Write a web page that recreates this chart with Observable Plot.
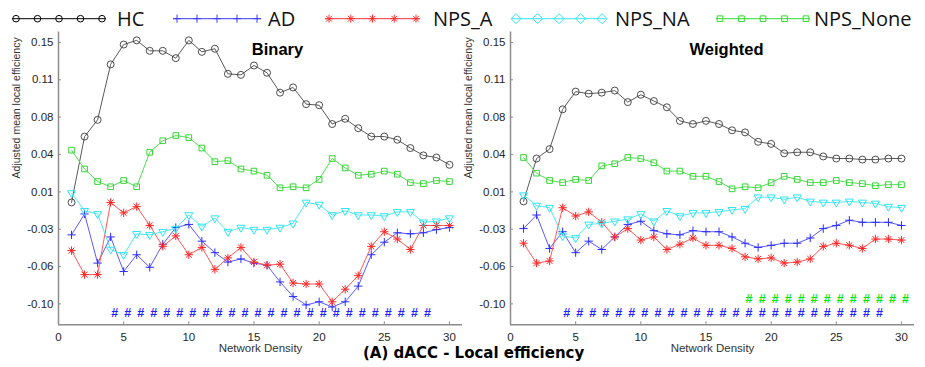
<!DOCTYPE html>
<html>
<head>
<meta charset="utf-8">
<script src="https://cdn.jsdelivr.net/npm/d3@7"></script>
<script src="https://cdn.jsdelivr.net/npm/@observablehq/plot@0.6"></script>
<style>
  html, body { margin: 0; padding: 0; background: #fff; }
  #wrap { position: relative; width: 925px; height: 367px; overflow: hidden; background: #fff; }
  #wrap > * { position: absolute; }
  #maintitle { left: 363px; top: 344px; font: bold 15px "DejaVu Sans", sans-serif; line-height: 18px; color: #000; white-space: nowrap; }
</style>
</head>
<body>
<div id="wrap"></div>
<script>
// ---------------- data ----------------
const density = [1,2,3,4,5,6,7,8,9,10,11,12,13,14,15,16,17,18,19,20,21,22,23,24,25,26,27,28,29,30];
const seriesNames = ["HC", "AD", "NPS_A", "NPS_NA", "NPS_None"];

// Binary panel
const binaryHC      = [-0.003, 0.060, 0.076, 0.129, 0.148, 0.152, 0.142, 0.142, 0.135, 0.152, 0.141, 0.144, 0.120, 0.119, 0.128, 0.121, 0.102, 0.107, 0.091, 0.090, 0.072, 0.077, 0.068, 0.060, 0.060, 0.057, 0.049, 0.042, 0.040, 0.033];
const binaryAD      = [-0.034, -0.014, -0.061, -0.036, -0.069, -0.053, -0.065, -0.043, -0.027, -0.024, -0.040, -0.051, -0.060, -0.057, -0.061, -0.063, -0.079, -0.093, -0.101, -0.098, -0.103, -0.098, -0.083, -0.053, -0.041, -0.032, -0.033, -0.032, -0.029, -0.027];
const binaryNPSA    = [-0.049, -0.072, -0.072, -0.003, -0.013, -0.007, -0.025, -0.045, -0.035, -0.053, -0.046, -0.067, -0.056, -0.046, -0.060, -0.063, -0.062, -0.080, -0.081, -0.081, -0.098, -0.086, -0.073, -0.045, -0.031, -0.038, -0.048, -0.025, -0.025, -0.025];
const binaryNPSNA   = [0.006, -0.011, -0.014, -0.048, -0.053, -0.033, -0.034, -0.031, -0.028, -0.015, -0.026, -0.018, -0.031, -0.027, -0.029, -0.029, -0.027, -0.023, -0.003, -0.005, -0.015, -0.011, -0.015, -0.015, -0.016, -0.012, -0.012, -0.022, -0.021, -0.018];
const binaryNPSNone = [0.047, 0.029, 0.017, 0.012, 0.018, 0.012, 0.045, 0.056, 0.061, 0.059, 0.049, 0.036, 0.037, 0.029, 0.027, 0.023, 0.011, 0.012, 0.011, 0.019, 0.039, 0.030, 0.023, 0.024, 0.027, 0.024, 0.016, 0.015, 0.018, 0.017];

// Weighted panel
const weightedHC      = [-0.002, 0.039, 0.048, 0.086, 0.103, 0.101, 0.102, 0.104, 0.093, 0.100, 0.094, 0.088, 0.075, 0.072, 0.075, 0.072, 0.066, 0.064, 0.055, 0.053, 0.044, 0.045, 0.045, 0.041, 0.039, 0.039, 0.038, 0.038, 0.039, 0.039];
const weightedAD      = [-0.028, -0.015, -0.047, -0.031, -0.051, -0.040, -0.048, -0.036, -0.024, -0.021, -0.030, -0.033, -0.034, -0.030, -0.031, -0.031, -0.036, -0.042, -0.046, -0.044, -0.042, -0.042, -0.037, -0.028, -0.025, -0.020, -0.022, -0.022, -0.022, -0.025];
const weightedNPSA    = [-0.042, -0.061, -0.059, -0.008, -0.016, -0.012, -0.022, -0.036, -0.028, -0.039, -0.036, -0.048, -0.043, -0.037, -0.044, -0.044, -0.047, -0.055, -0.057, -0.056, -0.061, -0.060, -0.057, -0.045, -0.042, -0.044, -0.047, -0.038, -0.038, -0.039];
const weightedNPSNA   = [0.004, -0.006, -0.008, -0.035, -0.037, -0.024, -0.023, -0.021, -0.019, -0.014, -0.021, -0.011, -0.016, -0.013, -0.013, -0.012, -0.010, -0.009, 0.002, 0.002, 0.000, 0.002, -0.002, -0.003, -0.003, -0.002, -0.003, -0.004, -0.007, -0.008];
const weightedNPSNone = [0.040, 0.025, 0.018, 0.016, 0.019, 0.018, 0.032, 0.034, 0.040, 0.039, 0.035, 0.027, 0.027, 0.022, 0.022, 0.017, 0.010, 0.012, 0.011, 0.016, 0.022, 0.019, 0.016, 0.016, 0.018, 0.016, 0.015, 0.013, 0.014, 0.014];

// significance markers (#)
const sigBinaryAD     = [4,5,6,7,8,9,10,11,12,13,14,15,16,17,18,19,20,21,22,23,24,25,26,27,28];
const sigWeightedAD   = [4,5,6,7,8,9,10,11,12,13,14,15,16,17,18,19,20,21,22,23,24,25,26,27,28];
const sigWeightedNone = [18,19,20,21,22,23,24,25,26,27,28,29,30];

// axes
const xDomain = [0, 31];
const yDomain = [-0.12, 0.16];
const xTicks = [0, 5, 10, 15, 20, 25, 30];
const yTicks = [-0.1, -0.0643, -0.0286, 0.0071, 0.0429, 0.0786, 0.1143, 0.15];
const yTickLabels = ["-0.10", "-0.06", "-0.03", "0.01", "0.04", "0.08", "0.11", "0.15"];

// ---------------- styles ----------------
const axisColor = "#8c8c8c";
const C = {
  HC:      {line: "#5a5a5a", mark: "#3a3a3a", legend: "#000000"},
  AD:      {line: "#5a5aff", mark: "#2b2bff", legend: "#3a3aff"},
  NPS_A:   {line: "#ff5757", mark: "#ff2626", legend: "#ff3030"},
  NPS_NA:  {line: "#4fe9f2", mark: "#30e4f0", legend: "#30e8f4"},
  NPS_None:{line: "#4ede4e", mark: "#35d635", legend: "#30dd30"}
};
const tickFont = "Liberation Sans, Arial, sans-serif";

function panel(o) {
  const X = (d, i) => density[i];
  const Y = d => d;
  const marks = [
    // axis lines
    Plot.ruleX([xDomain[0]], {stroke: axisColor, strokeWidth: 1.5}),
    Plot.ruleY([yDomain[0]], {stroke: axisColor, strokeWidth: 1.5}),
    // inward ticks
    Plot.axisX({ticks: xTicks, tickSize: -3, fill: "none", stroke: axisColor, label: null}),
    Plot.axisY({ticks: yTicks, tickSize: -3, fill: "none", stroke: axisColor, label: null}),
    // tick labels
    Plot.axisX({ticks: xTicks, tickSize: 0, tickPadding: 8, stroke: "none", fill: "#262626", label: null, tickFormat: d => String(d)}),
    Plot.axisY({ticks: yTicks, tickSize: 0, tickPadding: 5, stroke: "none", fill: "#262626", label: null,
                tickFormat: d => yTickLabels[yTicks.indexOf(d)]}),
    // axis titles
    Plot.text(["Network Density"], {frameAnchor: "bottom", dy: 27, text: d => d, fill: "#333", fontSize: 11.5}),
    Plot.text(["Adjusted mean local efficiency"], {frameAnchor: "left", dx: o.ylabDx, rotate: -90, text: d => d, fill: "#333", fontSize: 10.5}),
    Plot.text([o.title], {frameAnchor: "top", dy: 11, dx: o.titleDx, text: d => d, fill: "#000", fontWeight: "bold", fontSize: 16.5}),

    // HC
    Plot.line(o.hc, {x: X, y: Y, stroke: C.HC.line, strokeWidth: 1}),
    Plot.dot(o.hc, {x: X, y: Y, symbol: "circle", r: 3.5, stroke: C.HC.mark, fill: "none", strokeWidth: 0.9}),
    // AD
    Plot.line(o.ad, {x: X, y: Y, stroke: C.AD.line, strokeWidth: 1}),
    Plot.dot(o.ad, {x: X, y: Y, symbol: "plus", r: 2.8, stroke: C.AD.mark, fill: "none", strokeWidth: 1}),
    // NPS_A
    Plot.line(o.npsA, {x: X, y: Y, stroke: C.NPS_A.line, strokeWidth: 1}),
    Plot.dot(o.npsA, {x: X, y: Y, symbol: "plus", r: 2.8, stroke: C.NPS_A.mark, fill: "none", strokeWidth: 1}),
    Plot.dot(o.npsA, {x: X, y: Y, symbol: "times", r: 2.8, stroke: C.NPS_A.mark, fill: "none", strokeWidth: 1}),
    // NPS_NA
    Plot.line(o.npsNA, {x: X, y: Y, stroke: C.NPS_NA.line, strokeWidth: 1}),
    Plot.dot(o.npsNA, {x: X, y: Y, symbol: "triangle2", r: 3.8, rotate: 180, stroke: C.NPS_NA.mark, fill: "none", strokeWidth: 1}),
    // NPS_None
    Plot.line(o.npsNone, {x: X, y: Y, stroke: C.NPS_None.line, strokeWidth: 1}),
    Plot.dot(o.npsNone, {x: X, y: Y, symbol: "square2", r: 3.6, stroke: C.NPS_None.mark, fill: "none", strokeWidth: 1}),

    // significance markers
    Plot.text(o.sigAD, {x: d => d, frameAnchor: "bottom", dy: -7.5, dx: 4, text: () => "#", fill: "#1f1fff", fontWeight: "bold", fontSize: 12.5, lineHeight: 1}),
  ];
  if (o.sigNone) {
    marks.push(Plot.text(o.sigNone, {x: d => d, frameAnchor: "bottom", dy: -21.5, dx: 4, text: () => "#", fill: "#00e600", fontWeight: "bold", fontSize: 12.5, lineHeight: 1}));
  }
  return Plot.plot({
    width: o.width,
    height: 367,
    marginLeft: o.marginLeft,
    marginRight: 0,
    marginTop: 31.5,
    marginBottom: 42.7,
    x: {domain: xDomain},
    y: {domain: yDomain},
    style: {fontFamily: tickFont, fontSize: "11.5px", background: "transparent", overflow: "visible"},
    marks
  });
}

const wrap = document.getElementById("wrap");

const left = panel({title: "Binary", titleDx: 17, ylabDx: -42, width: 462, marginLeft: 58,
  hc: binaryHC, ad: binaryAD, npsA: binaryNPSA, npsNA: binaryNPSNA, npsNone: binaryNPSNone,
  sigAD: sigBinaryAD, sigNone: null});
left.style.left = "0px"; left.style.top = "0px";
wrap.appendChild(left);

const right = panel({title: "Weighted", titleDx: 14, ylabDx: -42, width: 452, marginLeft: 48,
  hc: weightedHC, ad: weightedAD, npsA: weightedNPSA, npsNA: weightedNPSNA, npsNone: weightedNPSNone,
  sigAD: sigWeightedAD, sigNone: sigWeightedNone});
right.style.left = "462px"; right.style.top = "0px";
wrap.appendChild(right);

// ---------------- legend ----------------
const legendLayout = [
  {name: "HC",       x0: 12,  x1: 106, tx: 117, sym: d3.symbolCircle,   size: Math.PI * 3.3 * 3.3},
  {name: "AD",       x0: 173, x1: 261, tx: 268, sym: d3.symbolPlus,     size: 23},
  {name: "NPS_A",    x0: 325, x1: 420, tx: 433, sym: "asterisk",       size: 23},
  {name: "NPS_NA",   x0: 512, x1: 606, tx: 615, sym: d3.symbolDiamond2, size: 64},
  {name: "NPS_None", x0: 716, x1: 810, tx: 814, sym: d3.symbolSquare2,  size: 41}
];
const lsvg = d3.create("svg").attr("width", 925).attr("height", 34)
  .style("left", "0px").style("top", "0px").style("overflow", "visible");
const ly = 18.7;
legendLayout.forEach(it => {
  const col = C[it.name].legend;
  const g = lsvg.append("g");
  g.append("line").attr("x1", it.x0).attr("x2", it.x1).attr("y1", ly).attr("y2", ly)
    .attr("stroke", col).attr("stroke-width", 1);
  const step = (it.x1 - it.x0 - 8) / 4;
  for (let k = 0; k < 5; k++) {
    const cx = it.x0 + 4 + k * step;
    const types = it.sym === "asterisk" ? [d3.symbolPlus, d3.symbolTimes] : [it.sym];
    types.forEach(t => {
      g.append("path").attr("d", d3.symbol().type(t).size(it.size)())
        .attr("transform", `translate(${cx},${ly})`)
        .attr("fill", "none").attr("stroke", col).attr("stroke-width", 1);
    });
  }
  g.append("text").attr("x", it.tx).attr("y", ly).attr("dy", "0.36em")
    .attr("font-family", "Open Sans, Noto Sans, sans-serif").attr("font-size", 20)
    .attr("fill", "#111").text(it.name);
});
wrap.appendChild(lsvg.node());

// ---------------- main title ----------------
const mt = document.createElement("div");
mt.id = "maintitle";
mt.textContent = "(A) dACC - Local efficiency";
wrap.appendChild(mt);
</script>
</body>
</html>
